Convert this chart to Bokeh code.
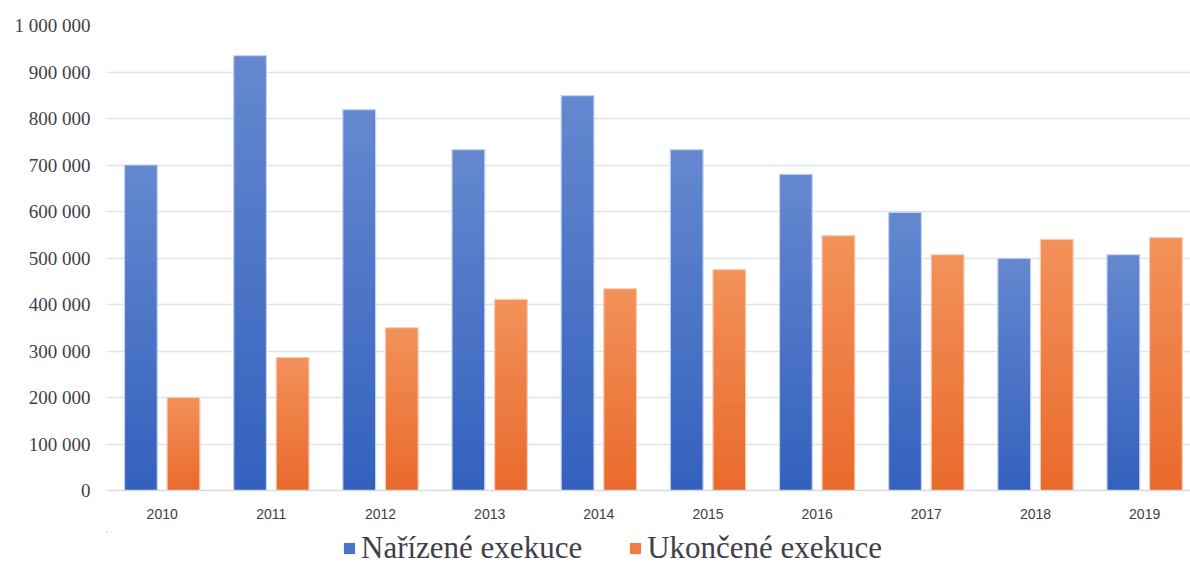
import numpy as np
from bokeh.plotting import figure
from bokeh.layouts import column
from bokeh.models import (Range1d, FixedTicker, Legend, LegendItem,
                          ColumnDataSource)
from bokeh.embed import file_html
from bokeh.resources import INLINE

# Executions ordered / finished per year
years = ["2010", "2011", "2012", "2013", "2014",
         "2015", "2016", "2017", "2018", "2019"]
ordered = [700000, 935000, 819000, 733000, 849000,
           733000, 680000, 598000, 499000, 507000]
finished = [200000, 286000, 350000, 411000, 434000,
            475000, 548000, 507000, 540000, 544000]
series_names = ["Nařízené exekuce", "Ukončené exekuce"]

y_ticks = [0, 100000, 200000, 300000, 400000, 500000,
           600000, 700000, 800000, 900000, 1000000]
y_tick_labels = ["0", "100 000", "200 000", "300 000", "400 000", "500 000",
                 "600 000", "700 000", "800 000", "900 000", "1 000 000"]

BAR_W = 0.30
OFFSET = 0.195
SLICES = 40

BLUE_TOP, BLUE_BOT, BLUE_EDGE = "#6589d0", "#3360bd", "#c3d0ee"
ORANGE_TOP, ORANGE_BOT, ORANGE_EDGE = "#f2915a", "#ea6a2c", "#f8cdb3"

positions = list(range(len(years)))

p = figure(width=1190, height=531, output_backend="svg", toolbar_location=None,
           x_range=Range1d(-0.51, 9.42), y_range=Range1d(0, 1000000),
           min_border_left=106, min_border_right=0, min_border_top=25,
           min_border_bottom=41)
p.outline_line_color = None
p.background_fill_color = "white"
p.border_fill_color = "white"


def mix(c_a, c_b, t):
    a = [int(c_a[i:i + 2], 16) for i in (1, 3, 5)]
    b = [int(c_b[i:i + 2], 16) for i in (1, 3, 5)]
    return "#%02x%02x%02x" % tuple(round(a[k] + (b[k] - a[k]) * t) for k in range(3))


def gradient_source(xs, vals, top_col, bot_col):
    # vertical gradient: stacked slices, each overlapping the next a little
    data = dict(x=[], bottom=[], top=[], color=[])
    for x, v in zip(xs, vals):
        for k in range(SLICES):
            data["x"].append(x)
            data["bottom"].append(v * k / SLICES)
            data["top"].append(v * min(k + 1.6, SLICES) / SLICES)
            data["color"].append(mix(bot_col, top_col, (k + 0.5) / SLICES))
    return ColumnDataSource(data)


x_ordered = [x - OFFSET for x in positions]
x_finished = [x + OFFSET for x in positions]
src_ordered = gradient_source(x_ordered, ordered, BLUE_TOP, BLUE_BOT)
src_finished = gradient_source(x_finished, finished, ORANGE_TOP, ORANGE_BOT)

for src, xs, vals, edge in ((src_ordered, x_ordered, ordered, BLUE_EDGE),
                            (src_finished, x_finished, finished, ORANGE_EDGE)):
    p.vbar(x="x", bottom="bottom", top="top", width=BAR_W,
           fill_color="color", line_color=None, source=src)
    p.vbar(x=xs, top=vals, width=BAR_W, fill_alpha=0,
           line_color=edge, line_width=1.2)

# Axes
p.xaxis.ticker = FixedTicker(ticks=positions)
p.xaxis.major_label_overrides = {i: y for i, y in enumerate(years)}
p.xaxis.axis_line_color = "#d6d9de"
p.xaxis.axis_line_width = 1.5
p.xaxis.major_tick_line_color = None
p.xaxis.minor_tick_line_color = None
p.xaxis.major_tick_out = 0
p.xaxis.major_tick_in = 0
p.xaxis.major_label_standoff = 18
p.xaxis.major_label_text_font = "Liberation Sans"
p.xaxis.major_label_text_font_size = "14px"
p.xaxis.major_label_text_color = "#404048"

p.yaxis.ticker = FixedTicker(ticks=y_ticks)
p.yaxis.major_label_overrides = {t: s for t, s in zip(y_ticks, y_tick_labels)}
p.yaxis.axis_line_color = None
p.yaxis.major_tick_line_color = None
p.yaxis.minor_tick_line_color = None
p.yaxis.major_tick_out = 0
p.yaxis.major_tick_in = 0
p.yaxis.major_label_standoff = 16
p.yaxis.major_label_text_font = "Liberation Serif"
p.yaxis.major_label_text_font_size = "19px"
p.yaxis.major_label_text_color = "#404048"

p.xgrid.grid_line_color = None
p.ygrid.grid_line_color = "#e0e4eb"
p.ygrid.grid_line_width = 1.5
p.ygrid.ticker = FixedTicker(ticks=y_ticks[1:])

# Legend strip underneath the chart; its swatches take the mid-gradient colour
lp = figure(width=1190, height=35, output_backend="svg", toolbar_location=None,
            x_range=Range1d(100, 101), y_range=Range1d(-2, -1),
            x_axis_location=None, y_axis_location=None,
            min_border=0)
lp.outline_line_color = None
lp.border_fill_color = "white"
lp.xgrid.visible = False
lp.ygrid.visible = False
leg_ordered = lp.vbar(x="x", bottom="bottom", top="top", width=BAR_W,
                      fill_color="color", line_color=None, source=src_ordered)
leg_finished = lp.vbar(x="x", bottom="bottom", top="top", width=BAR_W,
                       fill_color="color", line_color=None, source=src_finished)

mid = SLICES // 2
legend = Legend(items=[LegendItem(label=series_names[0], renderers=[leg_ordered], index=mid),
                       LegendItem(label=series_names[1], renderers=[leg_finished], index=mid)],
                orientation="horizontal", location=(236, 0),
                label_text_font="Liberation Serif", label_text_font_size="31px",
                label_text_color="#404048",
                glyph_width=14, glyph_height=14, label_standoff=5, spacing=46,
                padding=0, margin=0, border_line_color=None,
                background_fill_alpha=0)
lp.add_layout(legend, "center")

open("out.html", "w").write(file_html(column(p, lp, spacing=0), INLINE))
